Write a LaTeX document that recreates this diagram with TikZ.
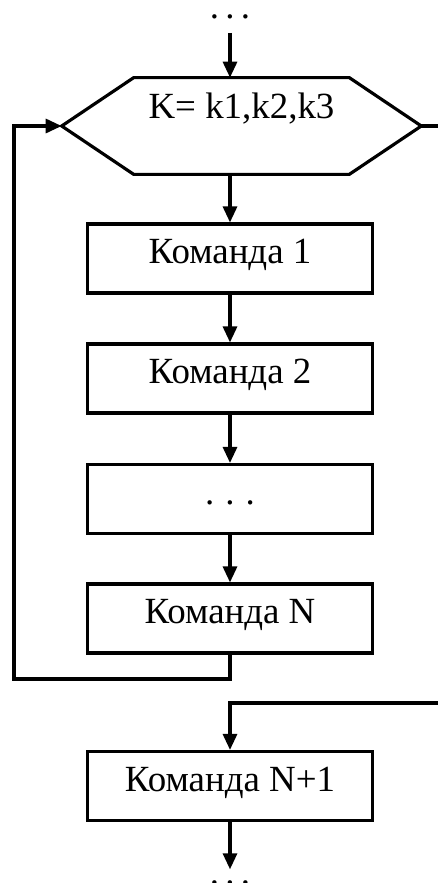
\documentclass[tikz,border=0pt]{standalone}
\usepackage{fontspec}
\setmainfont{Liberation Serif}
\usetikzlibrary{arrows.meta}

\begin{document}
\begin{tikzpicture}[
    x=0.02cm, y=-0.02cm,
    box/.style={rectangle, draw, line width=1.8pt, minimum width=5.7cm, minimum height=1.38cm, inner sep=0pt, align=center, font=\fontsize{21}{25}\selectfont, text height=0.8em, text depth=0.2em},
    hexbox/.style={rectangle, minimum width=4.3cm, minimum height=1.92cm, inner sep=0pt},
    txt/.style={inner sep=0pt, font=\fontsize{21}{25}\selectfont},
    arrow/.style={-{Triangle[length=0.32cm,width=0.28cm]}, line width=1.8pt},
    line/.style={line width=1.8pt}
]
\useasboundingbox (0,0) rectangle (438,883);
\clip (0,0) rectangle (438,883);

% Loop header
\node[txt, anchor=base] (dotsin) at (230,18) {.\kern0.17em.\kern0.17em.};
\node[hexbox] (cond) at (241.5,126) {};
\coordinate (condL) at ([xshift=-1.44cm]cond.west);
\coordinate (condR) at ([xshift=1.44cm]cond.east);
\draw[line] (cond.north west) -- (cond.north east) -- (condR) -- (cond.south east) -- (cond.south west) -- (condL) -- cycle;
\node[txt, text height=0.8em, text depth=0.2em] (condtext) at ([yshift=0.26cm]cond.center) {K= k1,k2,k3};

% Loop body
\node[box] (cmd1) at (230,258.5) {Команда 1};
\node[box] (cmd2) at (230,378.5) {Команда 2};
\node[box] (cmddots) at (230,499) {.\kern0.3em.\kern0.3em.};
\node[box] (cmdN) at (230,618.5) {Команда N};

% After the loop
\node[box] (cmdN1) at (230,786) {Команда N+1};
\node[txt, anchor=base] (dotsout) at (230,884) {.\kern0.17em.\kern0.17em.};

% Turning points
\coordinate (back) at (14,679);
\coordinate (exitR) at (460,126);
\coordinate (exitB) at (460,703);

% Arrows - through the loop
\draw[arrow, shorten <=0.28cm] (dotsin.south) -- (dotsin.south |- cond.north);
\draw[arrow] (cond.south -| cmd1) -- (cmd1);
\draw[arrow] (cmd1) -- (cmd2);
\draw[arrow] (cmd2) -- (cmddots);
\draw[arrow] (cmddots) -- (cmdN);

% Arrows - back to the header and out of the loop
\draw[arrow] (cmdN.south) |- (back) |- (condL);
\draw[arrow] (condR) -- (exitR) -- (exitB) -| (cmdN1.north);
\draw[arrow, shorten >=0.21cm] (cmdN1) -- (dotsout);

\end{tikzpicture}
\end{document}
